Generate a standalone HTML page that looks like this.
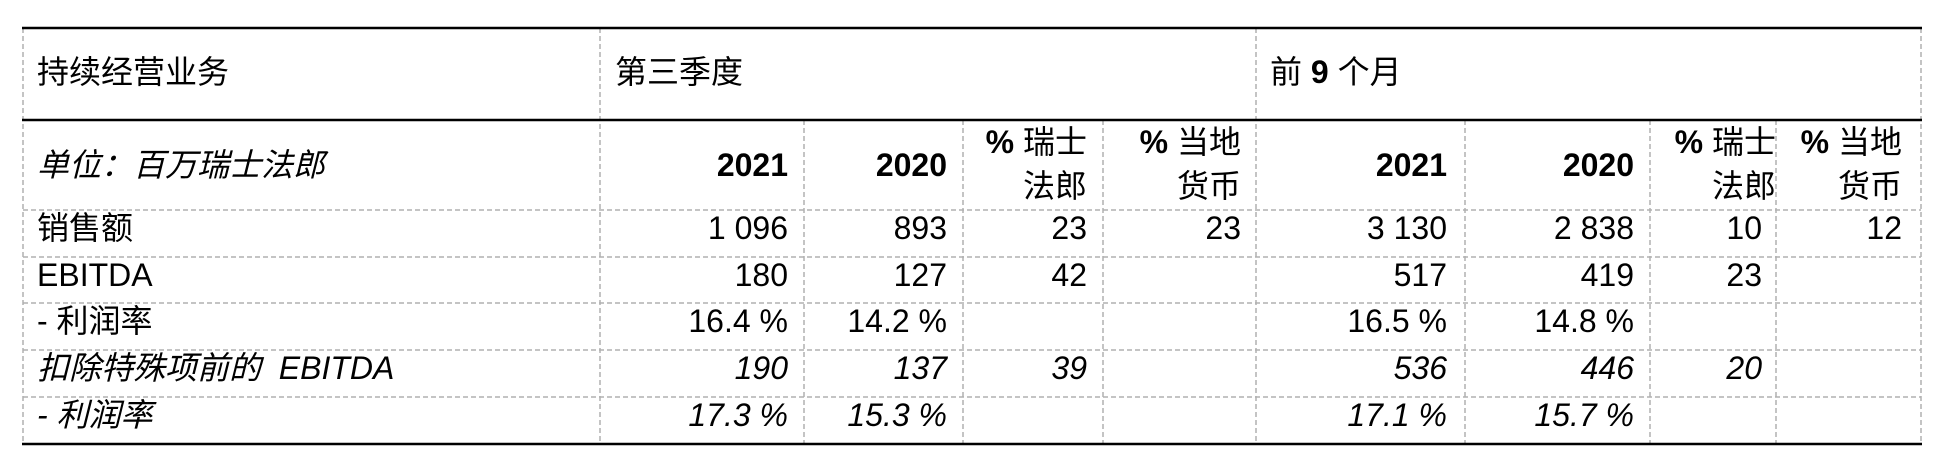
<!DOCTYPE html>
<html><head><meta charset="utf-8"><style>
body{margin:0;width:1934px;height:458px;background:#fff;position:relative;overflow:hidden;font-family:"Liberation Sans","Noto Sans CJK SC",sans-serif;color:#000;font-size:32px}
.t{position:absolute;white-space:nowrap;line-height:40px}
.r{text-align:right}
.i{font-style:italic}
.b{font-weight:bold}
</style></head><body>
<svg width="1934" height="458" style="position:absolute;left:0;top:0">
<g stroke="#b0b0b0" stroke-width="1.5" stroke-dasharray="5,3" fill="none">
<line x1="23" y1="28" x2="23" y2="444"/>
<line x1="1921" y1="28" x2="1921" y2="444"/>
<line x1="600" y1="28" x2="600" y2="444"/>
<line x1="1256" y1="28" x2="1256" y2="444"/>
<line x1="804" y1="120" x2="804" y2="444"/>
<line x1="963" y1="120" x2="963" y2="444"/>
<line x1="1103" y1="120" x2="1103" y2="444"/>
<line x1="1465" y1="120" x2="1465" y2="444"/>
<line x1="1650" y1="120" x2="1650" y2="444"/>
<line x1="1776" y1="120" x2="1776" y2="444"/>
<line x1="23" y1="210" x2="1921" y2="210"/>
<line x1="23" y1="257" x2="1921" y2="257"/>
<line x1="23" y1="303" x2="1921" y2="303"/>
<line x1="23" y1="350" x2="1921" y2="350"/>
<line x1="23" y1="397" x2="1921" y2="397"/>
</g>
<g stroke="#000" stroke-width="2.5">
<line x1="22" y1="28" x2="1922" y2="28"/>
<line x1="22" y1="120" x2="1922" y2="120"/>
<line x1="22" y1="444" x2="1922" y2="444"/>
</g>
</svg>
<div class="t" style="left:37px;top:52px">持续经营业务</div>
<div class="t" style="left:615px;top:52px">第三季度</div>
<div class="t" style="left:1270px;top:52px">前 <b>9</b> 个月</div>
<div class="t i" style="left:37px;top:145px">单位：百万瑞士法郎</div>

<div class="t r b" style="right:1146px;top:145px">2021</div>
<div class="t r b" style="right:987px;top:145px">2020</div>
<div class="t r" style="right:847px;top:120px;line-height:44px"><b>%</b> 瑞士<br>法郎</div>
<div class="t r" style="right:693px;top:120px;line-height:44px"><b>%</b> 当地<br>货币</div>
<div class="t r b" style="right:487px;top:145px">2021</div>
<div class="t r b" style="right:300px;top:145px">2020</div>
<div style="position:absolute;left:1650px;width:126px;top:120px;height:88px;overflow:hidden"><div class="t r" style="right:0;top:0;line-height:44px"><b>%</b> 瑞士<br>法郎</div></div>
<div class="t r" style="right:32px;top:120px;line-height:44px"><b>%</b> 当地<br>货币</div>

<div class="t" style="left:37px;top:208px">销售额</div>
<div class="t" style="left:37px;top:255px">EBITDA</div>
<div class="t" style="left:37px;top:301px">- 利润率</div>
<div class="t i" style="left:37px;top:348px">扣除特殊项前的&nbsp; EBITDA</div>
<div class="t i" style="left:37px;top:395px">- 利润率</div>

<div class="t r" style="right:1146px;top:208px">1 096</div>
<div class="t r" style="right:987px;top:208px">893</div>
<div class="t r" style="right:847px;top:208px">23</div>
<div class="t r" style="right:693px;top:208px">23</div>
<div class="t r" style="right:487px;top:208px">3 130</div>
<div class="t r" style="right:300px;top:208px">2 838</div>
<div class="t r" style="right:172px;top:208px">10</div>
<div class="t r" style="right:32px;top:208px">12</div>

<div class="t r" style="right:1146px;top:255px">180</div>
<div class="t r" style="right:987px;top:255px">127</div>
<div class="t r" style="right:847px;top:255px">42</div>
<div class="t r" style="right:487px;top:255px">517</div>
<div class="t r" style="right:300px;top:255px">419</div>
<div class="t r" style="right:172px;top:255px">23</div>

<div class="t r" style="right:1146px;top:301px">16.4 %</div>
<div class="t r" style="right:987px;top:301px">14.2 %</div>
<div class="t r" style="right:487px;top:301px">16.5 %</div>
<div class="t r" style="right:300px;top:301px">14.8 %</div>

<div class="t r i" style="right:1146px;top:348px">190</div>
<div class="t r i" style="right:987px;top:348px">137</div>
<div class="t r i" style="right:847px;top:348px">39</div>
<div class="t r i" style="right:487px;top:348px">536</div>
<div class="t r i" style="right:300px;top:348px">446</div>
<div class="t r i" style="right:172px;top:348px">20</div>

<div class="t r i" style="right:1146px;top:395px">17.3 %</div>
<div class="t r i" style="right:987px;top:395px">15.3 %</div>
<div class="t r i" style="right:487px;top:395px">17.1 %</div>
<div class="t r i" style="right:300px;top:395px">15.7 %</div>
</body></html>
